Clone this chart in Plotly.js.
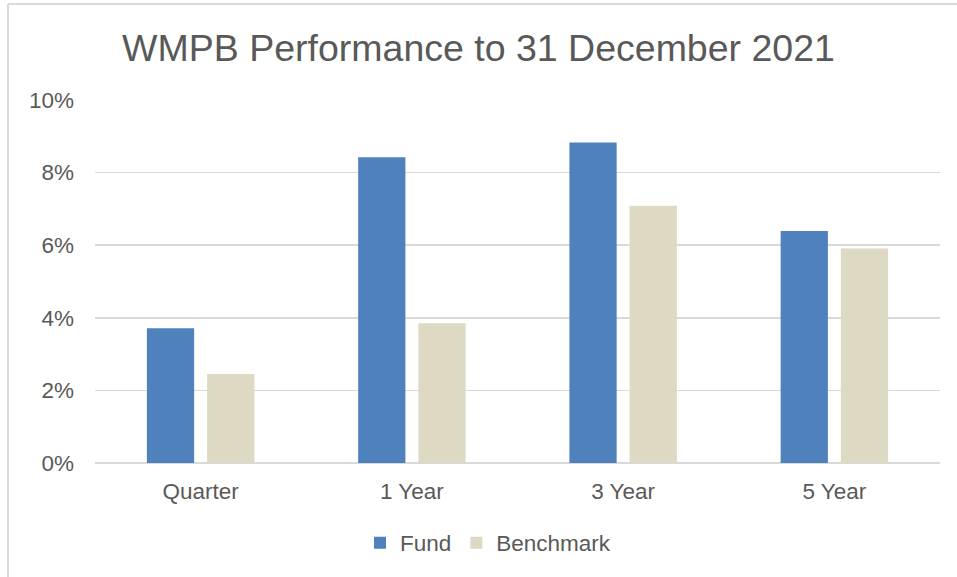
<!DOCTYPE html>
<html>
<head>
<meta charset="utf-8">
<script src="https://cdn.plot.ly/plotly-3.0.1.min.js"></script>
<style>html,body{margin:0;padding:0;background:#fff;}#chart{width:957px;height:577px;}</style>
</head>
<body>
<div id="chart"></div>
<script>
const categories = ["Quarter", "1 Year", "3 Year", "5 Year"];
const fundValues = [3.71, 8.42, 8.83, 6.39];
const benchmarkValues = [2.45, 3.85, 7.09, 5.91];
const yTickValues = [0, 2, 4, 6, 8, 10];
const yTickLabels = ["0%", "2%", "4%", "6%", "8%", "10%"];

const FONT = "Liberation Sans, Arial, sans-serif";
const TXT = "#595959";
const FS = 22.5;

const traces = [
  {type: "bar", name: "Fund", x: categories, y: fundValues,
   marker: {color: "#4F81BD"}, hoverinfo: "none"},
  {type: "bar", name: "Benchmark", x: categories, y: benchmarkValues,
   marker: {color: "#DDD9C3"}, hoverinfo: "none"}
];

const W = 957, H = 577, L = 95, R = 17, T = 100, B = 114;
const pw = W - L - R, ph = H - T - B;
const px = v => (v - L) / pw;
const py = v => (H - B - v) / ph;

const layout = {
  width: W, height: H,
  margin: {l: L, r: R, t: T, b: B, pad: 0},
  paper_bgcolor: "#ffffff", plot_bgcolor: "#ffffff",
  font: {family: FONT, color: TXT, size: FS},
  title: {text: "WMPB Performance to 31 December 2021",
          font: {family: FONT, size: 37.5, color: TXT},
          x: 0.5, xref: "container", xanchor: "center",
          y: 1 - 48 / H, yref: "container", yanchor: "middle"},
  barmode: "group", bargap: 0.43, bargroupgap: 0.215,
  xaxis: {showgrid: false, showline: false, zeroline: false, ticks: "",
          ticklabelstandoff: 12,
          tickfont: {family: FONT, size: FS, color: TXT}, fixedrange: true},
  yaxis: {range: [0, 10], tickvals: yTickValues, ticktext: yTickLabels,
          showgrid: true, gridcolor: "#d9d9d9", gridwidth: 1.5,
          zeroline: true, zerolinecolor: "#d9d9d9", zerolinewidth: 1.5,
          showline: false, ticks: "", ticklabelstandoff: 20,
          tickfont: {family: FONT, size: FS, color: TXT}, fixedrange: true},
  showlegend: true,
  legend: {orientation: "h", x: px(488), xanchor: "center", y: py(543), yanchor: "middle",
           font: {family: FONT, size: FS, color: TXT}, itemwidth: 30,
           bgcolor: "rgba(0,0,0,0)", tracegroupgap: 0},
  shapes: [
    {type: "line", xref: "paper", yref: "paper", x0: px(8), x1: px(8), y0: py(4), y1: py(H + 5),
     line: {color: "#d9d9d9", width: 2}},
    {type: "line", xref: "paper", yref: "paper", x0: px(8), x1: px(W + 5), y0: py(4), y1: py(4),
     line: {color: "#d9d9d9", width: 2}}
  ]
};

Plotly.newPlot("chart", traces, layout, {staticPlot: true, displayModeBar: false});
</script>
</body>
</html>
